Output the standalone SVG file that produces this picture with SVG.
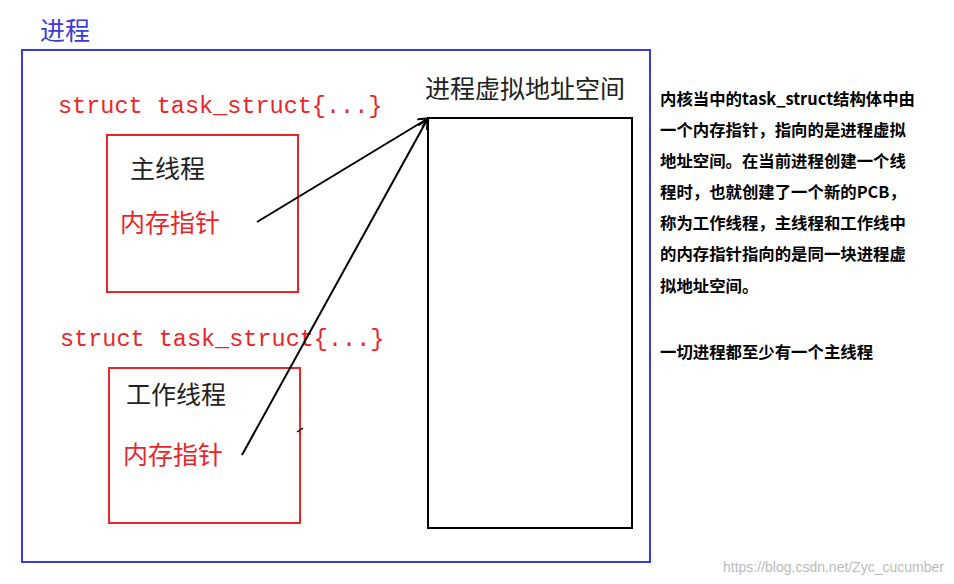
<svg xmlns="http://www.w3.org/2000/svg" width="954" height="584" viewBox="0 0 954 584">
<style>
.st{font-family:"Liberation Mono",monospace;font-size:23.5px;fill:#e8262a}
.cn{font-family:"Noto Sans CJK SC",sans-serif;font-size:25px}
.red{fill:#e8262a}
.rb{fill:none;stroke:#e8262a;stroke-width:2}
.note{font-family:"Noto Sans CJK SC",sans-serif;font-size:16.4px;font-weight:bold;fill:#000}
</style>
<defs><marker id="ah" markerWidth="10" markerHeight="10" refX="9" refY="5" orient="auto" markerUnits="userSpaceOnUse"><path d="M0,0 L10,5 L0,10" fill="none" stroke="#000" stroke-width="2"/></marker></defs>
<rect width="954" height="584" fill="#fff"/>
<g id="process">
<text x="40" y="40" class="cn" fill="#3b3bd8" font-size="23">进程</text>
<rect x="22" y="50" width="628" height="512" fill="none" stroke="#3b3bd8" stroke-width="2"/>
</g>
<g id="main-thread">
<text x="58" y="113" class="st">struct task_struct{...}</text>
<rect x="107" y="135" width="191" height="157" class="rb"/>
<text x="130" y="178" class="cn" fill="#222">主线程</text>
<text x="120" y="232" class="cn red">内存指针</text>
</g>
<g id="work-thread">
<text x="60" y="346" class="st">struct task_struct{...}</text>
<rect x="109" y="368" width="191" height="155" class="rb"/>
<text x="126" y="404" class="cn" fill="#222">工作线程</text>
<text x="123" y="464" class="cn red">内存指针</text>
<line x1="297" y1="432" x2="303" y2="428" stroke="#000" stroke-width="1.5"/>
</g>
<g id="vspace">
<text x="425" y="98" class="cn" fill="#222" font-size="27.5">进程虚拟地址空间</text>
<rect x="428" y="118" width="204" height="410" fill="none" stroke="#000" stroke-width="2"/>
</g>
<g id="connectors" stroke="#000" stroke-width="2" fill="none">
<line x1="257" y1="222" x2="427" y2="119" marker-end="url(#ah)"/>
<line x1="242" y1="455" x2="427" y2="120" marker-end="url(#ah)"/>
</g>
<g id="note">
<text class="note"><tspan x="660" y="105">内核当中的task_struct结构体中由</tspan><tspan x="660" y="136">一个内存指针，指向的是进程虚拟</tspan><tspan x="660" y="167">地址空间。在当前进程创建一个线</tspan><tspan x="660" y="198">程时，也就创建了一个新的PCB，</tspan><tspan x="660" y="229">称为工作线程，主线程和工作线中</tspan><tspan x="660" y="260">的内存指针指向的是同一块进程虚</tspan><tspan x="660" y="292">拟地址空间。</tspan><tspan x="660" y="358">一切进程都至少有一个主线程</tspan></text>
</g>
<text x="944" y="572" text-anchor="end" font-family="Liberation Sans,sans-serif" font-size="14" fill="#bbb">https://blog.csdn.net/Zyc_cucumber</text>
</svg>
